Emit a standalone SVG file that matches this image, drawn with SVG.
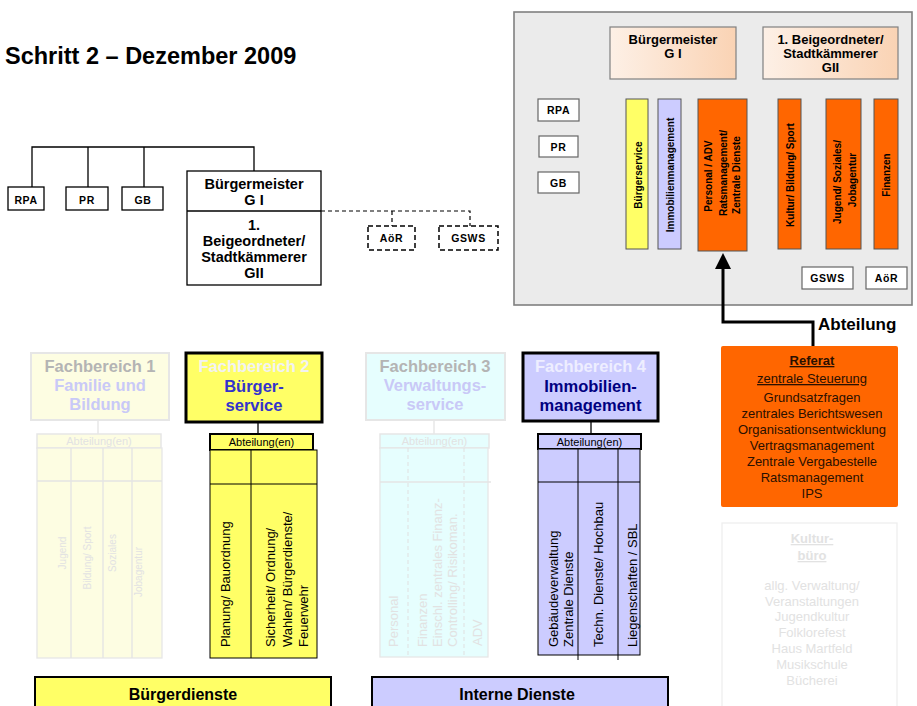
<svg xmlns="http://www.w3.org/2000/svg" width="917" height="706" viewBox="0 0 917 706">
  <defs>
    <linearGradient id="peach" x1="0" y1="0" x2="1" y2="0">
      <stop offset="0" stop-color="#fdf0e6"/>
      <stop offset="1" stop-color="#fad3b4"/>
    </linearGradient>
    <marker id="arrowhead" markerUnits="userSpaceOnUse" markerWidth="16" markerHeight="16" viewBox="0 0 16 16" refX="7" refY="8" orient="auto">
      <path d="M0,0 L16,8 L0,16 z" fill="#000"/>
    </marker>
    <style>
      text { font-family: "Liberation Sans", Arial, sans-serif; }
      .b { font-weight: bold; }
      .mid { text-anchor: middle; }
      .box { fill: #fff; stroke: #000; stroke-width: 1.3; }
      .pbox { fill: #fff; stroke: #666; stroke-width: 1.2; }
      .dbox { fill: #fff; stroke: #000; stroke-width: 1.5; stroke-dasharray: 5 3; }
      .line { fill: none; stroke: #000; stroke-width: 1.3; }
      .dline { fill: none; stroke: #000; stroke-width: 1.2; stroke-dasharray: 4 3; }
      .bar { stroke: #555; stroke-width: 1; }
      .yel { fill: #ffff66; }
      .lav { fill: #ccccff; }
      .org { fill: #ff6600; }
      .small { font-size: 10.5px; font-weight: bold; letter-spacing: 0.6px; }
      .vt { font-size: 10px; font-weight: bold; text-anchor: middle; }
      .fb { font-size: 16.5px; font-weight: bold; text-anchor: middle; }
      .abt { font-size: 11px; text-anchor: middle; }
      .col { font-size: 13px; }
      .ref { font-size: 13px; text-anchor: middle; fill: #2a1000; }
      .fadeline { fill: none; stroke: #e4e4e4; stroke-width: 1.3; }
      .fadetxt { fill: #e2e2e2; }
    </style>
  </defs>

  <rect width="917" height="706" fill="#fff"/>

  <!-- title -->
  <text x="5" y="64" class="b" font-size="23.5">Schritt 2 – Dezember 2009</text>

  <!-- connectors -->
  <g id="connectors">
    <path class="line" d="M32,187 V147 H254 V171 M88,147 V187 M144,147 V187 M254,208 V214"/>
    <path class="dline" d="M321,211 H470 V226 M392,211 V226"/>
    <path fill="none" stroke="#e4e4e4" stroke-width="1.3" d="M98,420 V435"/>
    <path class="line" d="M258,422 V434"/>
    <path fill="none" stroke="#e4e4e4" stroke-width="1.3" d="M434,420 V435"/>
    <path class="line" d="M591,421 V434"/>
  </g>

  <!-- left organisation chart -->
  <g id="rpa-left">
    <rect class="box" x="8" y="187" width="36" height="23"/>
    <text x="26" y="204" class="small mid">RPA</text>
  </g>
  <g id="pr-left">
    <rect class="box" x="66" y="187" width="42" height="23"/>
    <text x="87" y="204" class="small mid">PR</text>
  </g>
  <g id="gb-left">
    <rect class="box" x="122" y="187" width="41" height="23"/>
    <text x="143" y="204" class="small mid">GB</text>
  </g>
  <g id="leitung-left">
    <rect class="box" x="187" y="171" width="134" height="114"/>
    <line class="line" x1="187" y1="211" x2="321" y2="211"/>
    <g class="b mid" font-size="14.5">
      <text x="254" y="189">Bürgermeister</text>
      <text x="254" y="205">G I</text>
      <text x="254" y="230">1.</text>
      <text x="254" y="246">Beigeordneter/</text>
      <text x="254" y="262">Stadtkämmerer</text>
      <text x="254" y="278">GII</text>
    </g>
  </g>
  <g id="aoer-left">
    <rect class="dbox" x="368" y="226" width="47" height="24"/>
    <text x="391.5" y="242" class="small mid">AöR</text>
  </g>
  <g id="gsws-left">
    <rect class="dbox" x="439" y="226" width="59" height="24"/>
    <text x="468.5" y="242" class="small mid">GSWS</text>
  </g>

  <!-- grey overview panel -->
  <g id="panel">
    <rect x="514" y="12" width="398" height="293" fill="#ebebeb" stroke="#808080" stroke-width="1.6"/>
    <g id="bm-panel">
      <rect x="610" y="27" width="126" height="52" fill="url(#peach)" stroke="#808080" stroke-width="1.2"/>
      <text x="673" y="44" class="b mid" font-size="13">Bürgermeister</text>
      <text x="673" y="58" class="b mid" font-size="13">G I</text>
    </g>
    <g id="bg-panel">
      <rect x="763" y="27" width="135" height="52" fill="url(#peach)" stroke="#808080" stroke-width="1.2"/>
      <text x="830.5" y="44" class="b mid" font-size="13">1. Beigeordneter/</text>
      <text x="830.5" y="58" class="b mid" font-size="13">Stadtkämmerer</text>
      <text x="830.5" y="72" class="b mid" font-size="13">GII</text>
    </g>
    <g id="rpa-panel">
      <rect class="pbox" x="538" y="99" width="41" height="22"/>
      <text x="558.5" y="114" class="small mid">RPA</text>
    </g>
    <g id="pr-panel">
      <rect class="pbox" x="539" y="136" width="39" height="21"/>
      <text x="558.5" y="151" class="small mid">PR</text>
    </g>
    <g id="gb-panel">
      <rect class="pbox" x="538" y="172" width="41" height="21"/>
      <text x="558.5" y="187" class="small mid">GB</text>
    </g>
    <g id="buergerservice-panel">
      <rect class="bar yel" x="626" y="99" width="22" height="150"/>
      <text class="vt" transform="translate(641.5,175) rotate(-90)">Bürgerservice</text>
    </g>
    <g id="immo-panel">
      <rect class="bar lav" x="658" y="99" width="23" height="150"/>
      <text class="vt" transform="translate(673.5,175) rotate(-90)">Immobilienmanagement</text>
    </g>
    <g id="personal-panel">
      <rect class="bar org" x="698" y="99" width="49" height="152"/>
      <text class="vt" transform="translate(712,176) rotate(-90)">Personal / ADV</text>
      <text class="vt" transform="translate(726.5,173) rotate(-90)">Ratsmanagement/</text>
      <text class="vt" transform="translate(740,175) rotate(-90)">Zentrale Dienste</text>
    </g>
    <g id="kultur-panel">
      <rect class="bar org" x="778" y="99" width="23" height="150"/>
      <text class="vt" transform="translate(793.5,175) rotate(-90)">Kultur/ Bildung/ Sport</text>
    </g>
    <g id="jugend-panel">
      <rect class="bar org" x="826" y="99" width="35" height="150"/>
      <text class="vt" transform="translate(840.5,182) rotate(-90)">Jugend/ Soziales/</text>
      <text class="vt" transform="translate(855.5,180) rotate(-90)">Jobagentur</text>
    </g>
    <g id="finanzen-panel">
      <rect class="bar org" x="874" y="99" width="24" height="150"/>
      <text class="vt" transform="translate(889.5,175) rotate(-90)">Finanzen</text>
    </g>
    <g id="gsws-panel">
      <rect class="pbox" x="802" y="267" width="51" height="22"/>
      <text x="827.5" y="282" class="small mid">GSWS</text>
    </g>
    <g id="aoer-panel">
      <rect class="pbox" x="866" y="267" width="41" height="22"/>
      <text x="886.5" y="282" class="small mid">AöR</text>
    </g>
  </g>

  <!-- Abteilung arrow into the panel -->
  <g id="abteilung-link">
    <path d="M813,347 V322 H723 V262" fill="none" stroke="#000" stroke-width="3" marker-end="url(#arrowhead)"/>
    <text x="818" y="330" class="b" font-size="17">Abteilung</text>
  </g>

  <!-- Fachbereich 1 (faded) -->
  <g id="fb1">
    <rect x="31" y="353" width="138" height="67" fill="#fdfde2" stroke="#e6e6e6" stroke-width="2"/>
    <text x="100" y="372" class="fb" fill="#b4b4b4">Fachbereich 1</text>
    <text x="100" y="391" class="fb" fill="#c9c9f7">Familie und</text>
    <text x="100" y="410" class="fb" fill="#c9c9f7">Bildung</text>
    <rect x="37" y="434" width="124" height="14" fill="#fdfde2" stroke="#e6e6e6" stroke-width="1.5"/>
    <text x="99" y="445" class="abt fadetxt">Abteilung(en)</text>
    <rect x="37" y="448" width="125" height="210" fill="#fdfde2" stroke="#e6e6e6" stroke-width="1.3"/>
    <path class="fadeline" d="M37,481 H162 M71,448 V658 M103,448 V658 M132,448 V658"/>
    <g class="fadetxt" font-size="10" text-anchor="middle">
      <text transform="translate(65.5,553) rotate(-90)">Jugend</text>
      <text transform="translate(90.5,558) rotate(-90)">Bildung/ Sport</text>
      <text transform="translate(115.5,553) rotate(-90)">Soziales</text>
      <text transform="translate(141.5,572) rotate(-90)">Jobagentur</text>
    </g>
  </g>

  <!-- Fachbereich 2 -->
  <g id="fb2">
    <rect x="186" y="353" width="136" height="69" fill="#ffff66" stroke="#000" stroke-width="3"/>
    <text x="254" y="372" class="fb" fill="#f2f2f2">Fachbereich 2</text>
    <text x="254" y="392" class="fb" fill="#3333cc">Bürger-</text>
    <text x="254" y="411" class="fb" fill="#3333cc">service</text>
    <rect x="210" y="434" width="103" height="16" fill="#ffff66" stroke="#000" stroke-width="2"/>
    <text x="261.5" y="446" class="abt">Abteilung(en)</text>
    <rect x="210" y="450" width="107" height="208" fill="#ffff66" stroke="#000" stroke-width="1"/>
    <path fill="none" stroke="#000" stroke-width="1" d="M210,484 H317 M251,450 V658"/>
    <g class="col">
      <text transform="translate(229.5,647) rotate(-90)">Planung/ Bauordnung</text>
      <text transform="translate(274.5,647) rotate(-90)">Sicherheit/ Ordnung/</text>
      <text transform="translate(291.5,647) rotate(-90)">Wahlen/ Bürgerdienste/</text>
      <text transform="translate(307.5,647) rotate(-90)">Feuerwehr</text>
    </g>
  </g>

  <!-- Fachbereich 3 (faded) -->
  <g id="fb3">
    <rect x="366" y="353" width="139" height="67" fill="#e6fefe" stroke="#e6e6e6" stroke-width="2"/>
    <text x="435" y="372" class="fb" fill="#b4b4b4">Fachbereich 3</text>
    <text x="435" y="391" class="fb" fill="#c9c9f7">Verwaltungs-</text>
    <text x="435" y="410" class="fb" fill="#c9c9f7">service</text>
    <rect x="380" y="434" width="109" height="14" fill="#e6fefe" stroke="#e6e6e6" stroke-width="1.5"/>
    <text x="434.5" y="445" class="abt fadetxt">Abteilung(en)</text>
    <rect x="380" y="448" width="108" height="209" fill="#e6fefe" stroke="#e6e6e6" stroke-width="1.3"/>
    <path class="fadeline" d="M380,482 H491"/>
    <path fill="none" stroke="#e0e0e0" stroke-width="1" stroke-dasharray="4 3" d="M408,448 V657 M464,448 V657"/>
    <g class="col fadetxt">
      <text transform="translate(397.5,647) rotate(-90)">Personal</text>
      <text transform="translate(426.5,647) rotate(-90)">Finanzen</text>
      <text transform="translate(441.5,647) rotate(-90)">Einschl. zentrales Finanz-</text>
      <text transform="translate(456.5,647) rotate(-90)">Controlling/ Risikoman.</text>
      <text transform="translate(481.5,646) rotate(-90)">ADV</text>
    </g>
  </g>

  <!-- Fachbereich 4 -->
  <g id="fb4">
    <rect x="523" y="353" width="135" height="68" fill="#ccccff" stroke="#000" stroke-width="3"/>
    <text x="590.5" y="372" class="fb" fill="#eeeeff">Fachbereich 4</text>
    <text x="590.5" y="392" class="fb" fill="#000080">Immobilien-</text>
    <text x="590.5" y="411" class="fb" fill="#000080">management</text>
    <rect x="538" y="434" width="103" height="15" fill="#ccccff" stroke="#000" stroke-width="2"/>
    <text x="589.5" y="445.5" class="abt">Abteilung(en)</text>
    <rect x="538" y="449" width="102" height="206" fill="#ccccff" stroke="#000" stroke-width="1"/>
    <path fill="none" stroke="#000" stroke-width="1" d="M538,482 H640 M578,449 V660 M618,449 V660"/>
    <g class="col">
      <text transform="translate(557.5,647) rotate(-90)">Gebäudeverwaltung</text>
      <text transform="translate(572.5,647) rotate(-90)">Zentrale Dienste</text>
      <text transform="translate(602.5,647) rotate(-90)">Techn. Dienste/ Hochbau</text>
      <text transform="translate(636.5,647) rotate(-90)">Liegenschaften  / SBL</text>
    </g>
  </g>

  <!-- Referat -->
  <g id="referat">
    <rect x="721" y="346" width="177" height="161" rx="2" fill="#ff6600"/>
    <text x="812" y="365" class="ref b" text-decoration="underline">Referat</text>
    <text x="812" y="383" class="ref" text-decoration="underline">zentrale Steuerung</text>
    <text x="812" y="402" class="ref">Grundsatzfragen</text>
    <text x="812" y="418" class="ref">zentrales Berichtswesen</text>
    <text x="812" y="434" class="ref">Organisationsentwicklung</text>
    <text x="812" y="450" class="ref">Vertragsmanagement</text>
    <text x="812" y="466" class="ref">Zentrale Vergabestelle</text>
    <text x="812" y="482" class="ref">Ratsmanagement</text>
    <text x="812" y="498" class="ref">IPS</text>
  </g>

  <!-- Kulturbüro (faded) -->
  <g id="kulturbuero">
    <rect x="722" y="523" width="175" height="190" fill="#fff" stroke="#eeeeee" stroke-width="1.3"/>
    <g class="fadetxt" font-size="13" text-anchor="middle">
      <text x="812" y="543" class="b" text-decoration="underline">Kultur-</text>
      <text x="812" y="560" class="b" text-decoration="underline">büro</text>
      <text x="812" y="590">allg. Verwaltung/</text>
      <text x="812" y="606">Veranstaltungen</text>
      <text x="812" y="621">Jugendkultur</text>
      <text x="812" y="637">Folklorefest</text>
      <text x="812" y="653">Haus Martfeld</text>
      <text x="812" y="669">Musikschule</text>
      <text x="812" y="685">Bücherei</text>
    </g>
  </g>

  <!-- service groups -->
  <g id="buergerdienste">
    <rect x="35" y="677" width="296" height="40" fill="#ffff66" stroke="#000" stroke-width="2"/>
    <text x="183" y="700" class="b mid" font-size="16">Bürgerdienste</text>
  </g>
  <g id="interne-dienste">
    <rect x="372" y="677" width="296" height="40" fill="#ccccff" stroke="#000" stroke-width="2"/>
    <text x="517" y="700" class="b mid" font-size="16">Interne Dienste</text>
  </g>
</svg>
